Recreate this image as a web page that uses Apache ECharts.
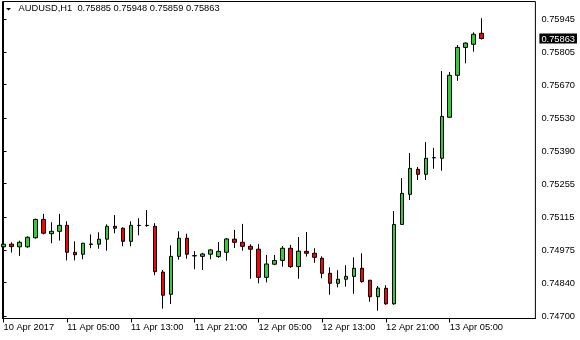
<!DOCTYPE html>
<html>
<head>
<meta charset="utf-8">
<script src="https://cdn.jsdelivr.net/npm/echarts@6/dist/echarts.min.js"></script>
<style>html,body{margin:0;padding:0;background:#fff}#c{width:580px;height:340px}</style>
</head>
<body>
<div id="c"></div>
<script>
const symbolTitle = 'AUDUSD,H1';
const lastBar = [0.75885, 0.75948, 0.75859, 0.75863];
const currentPrice = 0.75863;

const opens = [0.74990,0.75001,0.74990,0.74990,0.75028,0.75105,0.75045,0.75055,0.75080,0.74967,
0.74959,0.75000,0.75001,0.75022,0.75076,0.75068,0.75013,0.75079,0.75079,0.75076,
0.74884,0.74791,0.74950,0.75026,0.74953,0.74950,0.74959,0.74949,0.74967,0.75022,
0.75009,0.74992,0.74980,0.74862,0.74917,0.74933,0.74984,0.74907,0.74971,0.74963,
0.74942,0.74879,0.74837,0.74854,0.74866,0.74900,0.74850,0.74781,0.74816,0.74751,
0.75084,0.75210,0.75315,0.75294,0.75363,0.75361,0.75533,0.75709,0.75826,0.75839,
0.75885];
const closes = [0.75001,0.74991,0.75009,0.75030,0.75105,0.75047,0.75055,0.75080,0.74967,0.74957,
0.75005,0.75002,0.75022,0.75076,0.75068,0.75013,0.75080,0.75080,0.75080,0.74886,
0.74787,0.74950,0.75026,0.74959,0.74952,0.74960,0.74977,0.74971,0.75023,0.75009,
0.74992,0.74980,0.74862,0.74918,0.74933,0.74984,0.74907,0.74972,0.74963,0.74946,
0.74879,0.74837,0.74854,0.74866,0.74900,0.74844,0.74781,0.74817,0.74751,0.75084,
0.75214,0.75319,0.75294,0.75361,0.75364,0.75537,0.75709,0.75826,0.75844,0.75881,
0.75863];
const lows = [0.74967,0.74966,0.74952,0.74986,0.75024,0.75042,0.75005,0.75016,0.74933,0.74933,
0.74938,0.74984,0.74982,0.74974,0.75047,0.74992,0.74992,0.75038,0.75074,0.74871,
0.74731,0.74750,0.74936,0.74940,0.74896,0.74893,0.74938,0.74944,0.74932,0.74985,
0.74974,0.74856,0.74837,0.74841,0.74913,0.74907,0.74902,0.74856,0.74949,0.74923,
0.74858,0.74789,0.74820,0.74823,0.74793,0.74840,0.74760,0.74722,0.74747,0.74747,
0.75084,0.75186,0.75270,0.75270,0.75317,0.75309,0.75533,0.75686,0.75759,0.75808,
0.75859];
const highs = [0.75043,0.75009,0.75016,0.75034,0.75108,0.75128,0.75093,0.75128,0.75097,0.75013,
0.75007,0.75042,0.75051,0.75084,0.75123,0.75072,0.75097,0.75110,0.75144,0.75089,
0.74893,0.74996,0.75055,0.75045,0.74972,0.74965,0.74981,0.75010,0.75027,0.75061,
0.75086,0.75001,0.75001,0.74956,0.74956,0.74993,0.74998,0.75031,0.75052,0.74984,
0.74950,0.74904,0.74892,0.74913,0.74946,0.74963,0.74850,0.74826,0.74829,0.75140,
0.75278,0.75383,0.75325,0.75429,0.75405,0.75727,0.75723,0.75836,0.75847,0.75889,
0.75948];

const yTicks = [0.74700,0.74840,0.74975,0.75115,0.75255,0.75390,0.75530,0.75670,0.75805,0.75945];
const xTickIdx = [0,8,16,24,32,40,48,56];
const xTickLabels = ['10 Apr 2017','11 Apr 05:00','11 Apr 13:00','11 Apr 21:00','12 Apr 05:00','12 Apr 13:00','12 Apr 21:00','13 Apr 05:00'];

const FONT = '"Liberation Sans", Arial, sans-serif';
const FS = 9.3;
const data = opens.map((o, i) => [i, o, closes[i], lows[i], highs[i]]);

const chart = echarts.init(document.getElementById('c'), null, {renderer: 'canvas'});
chart.setOption({
  animation: false,
  backgroundColor: '#fff',
  grid: {left: 2.5, top: 1.5, width: 535, height: 317, show: true, borderColor: '#000', borderWidth: 1, backgroundColor: 'transparent'},
  xAxis: {
    type: 'value', min: -0.125, max: 66.75,
    axisLine: {show: true, lineStyle: {color: '#000', width: 1}},
    axisTick: {show: true, length: 4, customValues: xTickIdx, lineStyle: {color: '#000'}},
    axisLabel: {
      customValues: xTickIdx, align: 'left', margin: 4,
      fontSize: FS, fontFamily: FONT, color: '#000',
      formatter: v => xTickLabels[xTickIdx.indexOf(Math.round(v))] || ''
    },
    splitLine: {show: false}
  },
  yAxis: {
    type: 'value', position: 'right', min: 0.7468952, max: 0.7601835, scale: true,
    axisLine: {show: true, lineStyle: {color: '#000', width: 1}},
    axisTick: {show: true, length: 3, customValues: yTicks, lineStyle: {color: '#000'}},
    axisLabel: {
      customValues: yTicks.concat([currentPrice]), margin: 4,
      fontSize: FS, fontFamily: FONT, color: '#000',
      formatter: v => Math.abs(v - currentPrice) < 1e-7 ? '{cur|' + v.toFixed(5) + '}' : '{n|' + v.toFixed(5) + '}',
      rich: {
        n: {fontSize: FS, fontFamily: FONT, color: '#000', padding: [1, 2, 0, 2]},
        cur: {fontSize: FS, fontFamily: FONT, color: '#fff', backgroundColor: '#000', padding: [1, 2, 0, 2]}
      }
    },
    splitLine: {show: false}
  },
  series: [{
    type: 'candlestick',
    data: data,
    encode: {x: 0, y: [1, 2, 3, 4]},
    barWidth: 4,
    itemStyle: {
      color: '#32CD32', color0: '#FF0000',
      borderColor: '#000', borderColor0: '#000', borderColorDoji: '#000', borderWidth: 1
    }
  }],
  graphic: [
    {type: 'polygon', shape: {points: [[6, 8], [11, 8], [8.5, 10.5]]}, style: {fill: '#000'}},
    {type: 'text', x: 18.5, y: 4.3, style: {text: symbolTitle + '  ' + lastBar.map(v => v.toFixed(5)).join(' '), font: FS + 'px ' + FONT, fill: '#000'}}
  ]
});
</script>
</body>
</html>
